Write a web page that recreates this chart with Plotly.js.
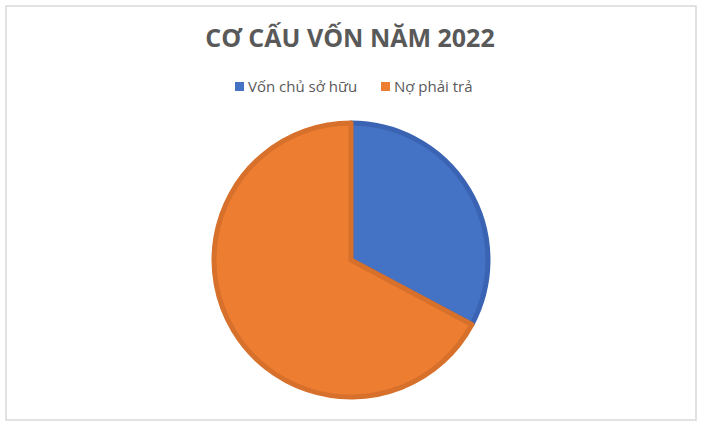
<!DOCTYPE html>
<html>
<head>
<meta charset="utf-8">
<script src="https://cdn.plot.ly/plotly-3.0.1.min.js"></script>
<style>
  html, body { margin: 0; padding: 0; background: #fff; }
  #chart { width: 706px; height: 425px; }
</style>
</head>
<body>
<div id="chart"></div>
<script>
// co cau von 2022 (ty le %)
var labels = ["Vốn chủ sở hữu", "Nợ phải trả"];
var values = [32.8, 67.2];
var fillColors = ["#4472C4", "#ED7D31"];
var edgeColors = ["#3A64B3", "#D6702B"];

var W = 706, H = 425;
var cx = 351, cy = 260, r = 137;

var data = [{
    type: "pie",
    labels: labels,
    values: values,
    sort: false,
    direction: "clockwise",
    rotation: 0,
    textinfo: "none",
    hoverinfo: "label+percent",
    showlegend: false,
    marker: {
        colors: fillColors,
        line: { color: edgeColors, width: 5 }
    },
    domain: {
        x: [(cx - r) / W, (cx + r) / W],
        y: [1 - (cy + r) / H, 1 - (cy - r) / H]
    }
}];

// legend drawn by hand (Excel style: small square right next to the text)
var legendX = [235, 381];
var legendY = 86.5;
var shapes = [{
    type: "rect", xref: "paper", yref: "paper",
    x0: 6 / W, x1: 696 / W, y0: 1 - 420 / H, y1: 1 - 6 / H,
    line: { color: "#d9d9d9", width: 1.5 }
}];
var annotations = [];
labels.forEach(function (lab, i) {
    shapes.push({
        type: "rect", xref: "paper", yref: "paper",
        x0: legendX[i] / W, x1: (legendX[i] + 9) / W,
        y0: 1 - (legendY + 4.5) / H, y1: 1 - (legendY - 4.5) / H,
        fillcolor: fillColors[i], line: { width: 0 }
    });
    annotations.push({
        text: lab, xref: "paper", yref: "paper",
        x: (legendX[i] + 11) / W, xanchor: "left",
        y: 1 - legendY / H, yanchor: "middle",
        showarrow: false,
        font: { family: "Open Sans", size: 15, color: "#595959" }
    });
});

var layout = {
    width: W,
    height: H,
    margin: { l: 0, r: 0, t: 0, b: 0 },
    paper_bgcolor: "#ffffff",
    title: {
        text: "<b>CƠ CẤU VỐN NĂM 2022</b>",
        font: { family: "Open Sans", size: 25, color: "#595959" },
        x: 350 / W, xanchor: "center",
        y: 1 - 38 / H, yanchor: "middle", yref: "container"
    },
    showlegend: false,
    shapes: shapes,
    annotations: annotations
};

Plotly.newPlot("chart", data, layout, { displayModeBar: false, staticPlot: true });
</script>
</body>
</html>
